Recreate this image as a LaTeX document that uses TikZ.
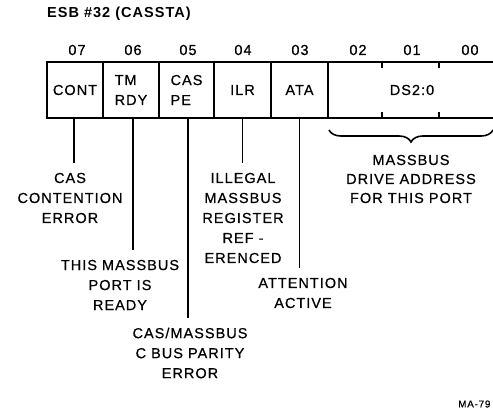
\documentclass[tikz,border=0pt]{standalone}
\usepackage{fontspec}
\setmainfont[LetterSpace=7, FakeBold=0.6,
             BoldFeatures={FakeBold=0}]{Liberation Sans}
\usetikzlibrary{positioning, decorations.pathreplacing}

\begin{document}
\begin{tikzpicture}[x=1pt, y=-1pt,
          field/.style={rectangle, draw, line width=1.9pt,
                        minimum height=56pt, inner sep=0pt,
                        font=\fontsize{14.5}{20}\selectfont, align=left},
          bit/.style={font=\fontsize{14.5}{20}\selectfont, inner sep=0pt},
          lbl/.style={font=\fontsize{14.5}{20}\selectfont, align=center,
                      inner sep=0pt, outer sep=10pt},
          lead/.style={line width=1.7pt}
        ]
        \useasboundingbox (0,0) rectangle (493,414);
        \clip (0,0) rectangle (493,414);

        % Title
        \node[font=\fontsize{14.5}{20}\selectfont\bfseries, anchor=west,
              inner sep=0pt] (title) at (47,14) {ESB \#32 (CASSTA)};

        % Register fields
        \foreach \n/\x/\w/\t in {cont/75/56/CONT, tm/131/56/{TM\\RDY},
                                 cas/186.5/55/{CAS\\PE}, ilr/242.5/57/ILR,
                                 ata/299.5/57/ATA} {
          \node[field, minimum width=\w pt] (\n) at (\x,90) {\t};
        }
        \node[field, minimum width=168pt] (ds) at (412,90) {DS2:0};
        \draw[line width=1.5pt] (ds.north west) ++(55,0) -- ++(0,7);
        \draw[line width=1.5pt] (ds.north west) ++(112,0) -- ++(0,7);
        \draw[line width=1.5pt] (ds.south west) ++(55,0) -- ++(0,-7);
        \draw[line width=1.5pt] (ds.south west) ++(112,0) -- ++(0,-7);

        % Bit numbers
        \foreach \b/\x in {07/77, 06/133, 05/188, 04/243,
                           03/300, 02/358, 01/412, 00/470} {
          \node[bit] (b\b) at (\x,50) {\b};
        }

        % Field descriptions
        \node[lbl] (contlbl) at (70,198) {CAS\\CONTENTION\\ERROR};
        \node[lbl] (tmlbl) at (120,285) {THIS MASSBUS\\PORT IS\\READY};
        \node[lbl] (caslbl) at (190,353) {CAS/MASSBUS\\C BUS PARITY\\ERROR};
        \node[lbl] (ilrlbl) at (243,218)
              {ILLEGAL\\MASSBUS\\REGISTER\\REF -\\ERENCED};
        \node[lbl] (atalbl) at (303,293) {ATTENTION\\ACTIVE};
        \node[lbl, font=\fontsize{14.5}{19}\selectfont] (dslbl) at (411,179)
              {MASSBUS\\DRIVE ADDRESS\\FOR THIS PORT};

        % Leaders
        \draw[lead] ([xshift=-1pt]cont.south) -- ([xshift=-1pt]cont.south |- contlbl.north);
        \draw[lead] ([xshift=2pt]tm.south) -- ([xshift=2pt]tm.south |- tmlbl.north);
        \draw[lead] ([xshift=1.5pt]cas.south) -- ([xshift=1.5pt]cas.south |- caslbl.north);
        \draw[lead] (ilr.south) -- (ilr.south |- ilrlbl.north);
        \draw[lead] (ata.south) -- (ata.south |- atalbl.north);

        % Brace under DS2:0
        \coordinate (brL) at (329,130);
        \coordinate (brR) at (493,130);
        \draw[line width=1.6pt, decorate,
              decoration={brace, mirror, amplitude=12pt}] (brL) -- (brR);

        % Figure number
        \node[font=\fontsize{10}{12}\selectfont, anchor=west, inner sep=0pt]
              (fig) at (458,404) {MA-79};
      \end{tikzpicture}
\end{document}
